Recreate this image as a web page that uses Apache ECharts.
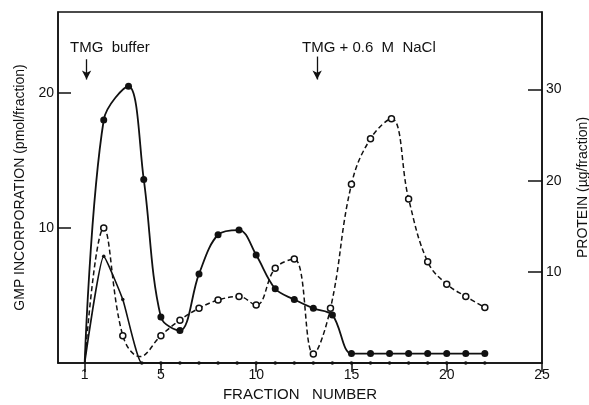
<!DOCTYPE html>
<html>
<head>
<meta charset="UTF-8">
<title>GMP incorporation / protein</title>
<script src="https://cdn.jsdelivr.net/npm/echarts@6/dist/echarts.min.js"></script>
<style>
  html, body { margin: 0; padding: 0; background: #fff; }
  #main { width: 589px; height: 405px; }
</style>
</head>
<body>
<div id="main"></div>
<script>
// fractions and values
var gmpFrac = [1, 2, 3.3, 4.1, 5, 6, 7, 8, 9.1, 10, 11, 12, 13, 14, 15, 16, 17, 18, 19, 20, 21, 22];
var gmpVal = [0, 18, 20.5, 13.6, 3.4, 2.4, 6.6, 9.5, 9.85, 8.0, 5.5, 4.7, 4.05, 3.55, 0.7, 0.7, 0.7, 0.7, 0.7, 0.7, 0.7, 0.7];
var gmpNoMark = [0];

var gmpLowFrac = [1, 2, 3, 4, 5, 6, 7, 8, 9, 10, 11, 12, 13, 14, 15, 16, 17, 18, 19, 20, 21, 22];
var gmpLowVal = [0, 7.9, 4.7, 0, 0, 0, 0, 0, 0, 0, 0, 0, 0, 0, 0, 0, 0, 0, 0, 0, 0, 0];
var gmpLowNoMark = [0];

// protein curve; the point at 3.9 is the unmarked trough of the drawn curve
var protFrac = [1, 2, 3, 3.9, 5, 6, 7, 8, 9.1, 10, 11, 12, 13, 13.9, 15, 16, 17.1, 18, 19, 20, 21, 22];
var protVal = [0, 14.8, 3.0, 0.7, 3.0, 4.7, 6.0, 6.9, 7.3, 6.35, 10.4, 11.4, 1.0, 6.0, 19.6, 24.6, 26.8, 18.0, 11.1, 8.65, 7.3, 6.1];
var protNoMark = [0, 3];

var xTicks = [1, 5, 10, 15, 20, 25];
var leftTicks = [10, 20];
var rightTicks = [10, 20, 30];

function pairs(xs, ys, hidden) {
    return xs.map(function (x, i) {
        var p = { value: [x, ys[i]] };
        if (hidden.indexOf(i) >= 0) p.symbol = 'none';
        return p;
    });
}

var ink = '#111';
var font = 'Liberation Sans, Arial, sans-serif';

var myChart = echarts.init(document.getElementById('main'));

myChart.setOption({
    animation: false,
    backgroundColor: '#fff',
    grid: {
        left: 58, right: 47, top: 12, bottom: 42,
        outerBoundsMode: 'none', containLabel: false,
        show: true, borderColor: ink, borderWidth: 1.5
    },
    textStyle: { fontFamily: font, color: ink },
    xAxis: {
        type: 'value', min: -0.4, max: 25,
        name: 'FRACTION   NUMBER', nameLocation: 'middle', nameGap: 23,
        nameTextStyle: { fontSize: 15, color: ink, fontFamily: font },
        axisLine: { onZero: false, lineStyle: { color: ink, width: 1.5 } },
        axisTick: { customValues: xTicks, length: 9, lineStyle: { color: ink, width: 1.5 } },
        axisLabel: { customValues: xTicks, fontSize: 14, color: ink, margin: 5 },
        splitLine: { show: false }
    },
    yAxis: [{
        type: 'value', min: 0, max: 26, position: 'left',
        name: 'GMP INCORPORATION (pmol/fraction)', nameLocation: 'middle', nameGap: 19, nameRotate: 90,
        nameTextStyle: { fontSize: 14, color: ink, fontFamily: font },
        axisLine: { show: true, onZero: false, lineStyle: { color: ink, width: 1.5 } },
        axisTick: { customValues: leftTicks, inside: true, length: 13, lineStyle: { color: ink, width: 1.5 } },
        axisLabel: { customValues: leftTicks, fontSize: 14, color: ink, margin: 4 },
        splitLine: { show: false }
    }, {
        type: 'value', min: 0, max: 38.5, position: 'right',
        name: 'PROTEIN (\u00b5g/fraction)', nameLocation: 'middle', nameGap: 34, nameRotate: 90,
        nameTextStyle: { fontSize: 14, color: ink, fontFamily: font },
        axisLine: { show: true, onZero: false, lineStyle: { color: ink, width: 1.5 } },
        axisTick: { customValues: rightTicks, inside: true, length: 14, lineStyle: { color: ink, width: 1.5 } },
        axisLabel: { customValues: rightTicks, fontSize: 14, color: ink, margin: 4 },
        splitLine: { show: false }
    }],
    graphic: [
        { type: 'text', left: 70, top: 40, style: { text: 'TMG  buffer', font: '15px ' + font, fill: ink } },
        { type: 'text', left: 302, top: 40, style: { text: 'TMG + 0.6  M  NaCl', font: '15px ' + font, fill: ink } }
    ],
    series: [{
        name: 'protein', type: 'line', yAxisIndex: 1, smooth: 0.4, z: 2,
        data: pairs(protFrac, protVal, protNoMark),
        symbol: 'circle', symbolSize: 6, showAllSymbol: true,
        itemStyle: { color: '#fff', borderColor: ink, borderWidth: 1.5 },
        lineStyle: { color: ink, width: 1.5, type: [5, 3] }
    }, {
        name: 'gmp low', type: 'line', smooth: 0.15, z: 3,
        data: pairs(gmpLowFrac, gmpLowVal, gmpLowNoMark),
        symbol: 'circle', symbolSize: 3.5, showAllSymbol: true,
        itemStyle: { color: ink },
        lineStyle: { color: ink, width: 1.6 }
    }, {
        name: 'gmp', type: 'line', smooth: 0.35, z: 4,
        data: pairs(gmpFrac, gmpVal, gmpNoMark),
        symbol: 'circle', symbolSize: 7, showAllSymbol: true,
        itemStyle: { color: ink },
        lineStyle: { color: ink, width: 1.8 },
        markLine: {
            silent: true, symbol: ['none', 'arrow'], symbolSize: [7, 9],
            label: { show: false },
            lineStyle: { color: ink, width: 1.3, type: 'solid' },
            data: [
                [{ coord: [1.1, 22.5] }, { coord: [1.1, 21.0] }],
                [{ coord: [13.2, 22.7] }, { coord: [13.2, 21.0] }]
            ]
        }
    }]
});
</script>
</body>
</html>
